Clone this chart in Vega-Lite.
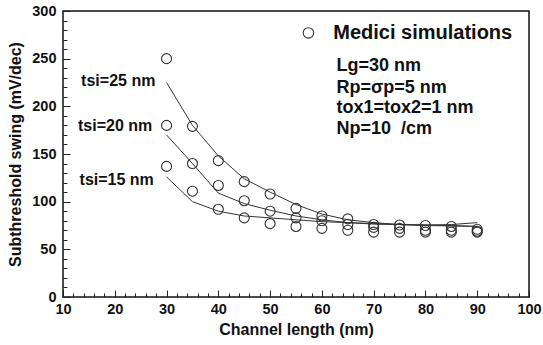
{
  "$schema": "https://vega.github.io/schema/vega-lite/v6.json",
  "width": 466,
  "height": 286,
  "autosize": {"type": "none"},
  "padding": {"left": 63, "top": 11, "right": 14, "bottom": 48},
  "background": "white",
  "config": {
    "view": {"stroke": "#111", "strokeWidth": 1.5},
    "font": "Liberation Sans",
    "axis": {
      "domain": false,
      "grid": false,
      "labelFont": "Liberation Sans",
      "labelFontWeight": "bold",
      "labelFontSize": 14.5,
      "labelColor": "#111",
      "titleFont": "Liberation Sans",
      "titleFontWeight": "bold",
      "titleFontSize": 16,
      "titleColor": "#111",
      "tickColor": "#222",
      "tickWidth": 1
    }
  },
  "datasets": {
    "points": [
      {"L": 30, "S": 250, "t": "25"}, {"L": 35, "S": 179, "t": "25"}, {"L": 40, "S": 143, "t": "25"}, {"L": 45, "S": 121, "t": "25"}, {"L": 50, "S": 108, "t": "25"}, {"L": 55, "S": 93, "t": "25"}, {"L": 60, "S": 85, "t": "25"}, {"L": 65, "S": 82, "t": "25"}, {"L": 70, "S": 76, "t": "25"}, {"L": 75, "S": 75.5, "t": "25"}, {"L": 80, "S": 75, "t": "25"}, {"L": 85, "S": 74, "t": "25"}, {"L": 90, "S": 71, "t": "25"},
      {"L": 30, "S": 180, "t": "20"}, {"L": 35, "S": 140, "t": "20"}, {"L": 40, "S": 117, "t": "20"}, {"L": 45, "S": 101, "t": "20"}, {"L": 50, "S": 90, "t": "20"}, {"L": 55, "S": 83, "t": "20"}, {"L": 60, "S": 80, "t": "20"}, {"L": 65, "S": 76, "t": "20"}, {"L": 70, "S": 73, "t": "20"}, {"L": 75, "S": 72, "t": "20"}, {"L": 80, "S": 70, "t": "20"}, {"L": 85, "S": 70, "t": "20"}, {"L": 90, "S": 69, "t": "20"},
      {"L": 30, "S": 137, "t": "15"}, {"L": 35, "S": 111, "t": "15"}, {"L": 40, "S": 92, "t": "15"}, {"L": 45, "S": 83, "t": "15"}, {"L": 50, "S": 77, "t": "15"}, {"L": 55, "S": 74, "t": "15"}, {"L": 60, "S": 72, "t": "15"}, {"L": 65, "S": 70, "t": "15"}, {"L": 70, "S": 68, "t": "15"}, {"L": 75, "S": 68, "t": "15"}, {"L": 80, "S": 68, "t": "15"}, {"L": 85, "S": 68, "t": "15"}, {"L": 90, "S": 68, "t": "15"}
    ],
    "lines": [
      {"L": 30, "S": 225, "t": "25"}, {"L": 35, "S": 180, "t": "25"}, {"L": 40, "S": 148, "t": "25"}, {"L": 45, "S": 124, "t": "25"}, {"L": 50, "S": 110, "t": "25"}, {"L": 55, "S": 97, "t": "25"}, {"L": 60, "S": 87, "t": "25"}, {"L": 65, "S": 81, "t": "25"}, {"L": 70, "S": 78, "t": "25"}, {"L": 75, "S": 76, "t": "25"}, {"L": 80, "S": 75, "t": "25"}, {"L": 85, "S": 74.5, "t": "25"}, {"L": 90, "S": 74, "t": "25"},
      {"L": 30, "S": 170, "t": "20"}, {"L": 35, "S": 140, "t": "20"}, {"L": 40, "S": 109, "t": "20"}, {"L": 45, "S": 98, "t": "20"}, {"L": 50, "S": 91, "t": "20"}, {"L": 55, "S": 85, "t": "20"}, {"L": 60, "S": 81, "t": "20"}, {"L": 65, "S": 78, "t": "20"}, {"L": 70, "S": 77, "t": "20"}, {"L": 75, "S": 76, "t": "20"}, {"L": 80, "S": 75.5, "t": "20"}, {"L": 85, "S": 75, "t": "20"}, {"L": 90, "S": 74, "t": "20"},
      {"L": 30, "S": 126, "t": "15"}, {"L": 35, "S": 100, "t": "15"}, {"L": 40, "S": 90, "t": "15"}, {"L": 45, "S": 85, "t": "15"}, {"L": 50, "S": 83, "t": "15"}, {"L": 55, "S": 81, "t": "15"}, {"L": 60, "S": 79, "t": "15"}, {"L": 65, "S": 78, "t": "15"}, {"L": 70, "S": 76.5, "t": "15"}, {"L": 75, "S": 76, "t": "15"}, {"L": 80, "S": 75.5, "t": "15"}, {"L": 85, "S": 76, "t": "15"}, {"L": 90, "S": 78, "t": "15"}
    ],
    "labels": [
      {"L": 13.5, "S": 227, "label": "tsi=25 nm"},
      {"L": 12.9, "S": 179, "label": "tsi=20 nm"},
      {"L": 13.2, "S": 123, "label": "tsi=15 nm"}
    ],
    "notes": [
      {"L": 62.8, "S": 242, "label": "Lg=30 nm"},
      {"L": 62.8, "S": 219.5, "label": "Rp=σp=5 nm"},
      {"L": 62.8, "S": 198.5, "label": "tox1=tox2=1 nm"},
      {"L": 62.8, "S": 176, "label": "Np=10\u00a0\u00a0/cm"}
    ]
  },
  "encoding": {
    "x": {
      "field": "L", "type": "quantitative",
      "scale": {"domain": [10, 100], "nice": false, "zero": false},
      "axis": {
        "title": "Channel length (nm)",
        "values": [10,12,14,16,18,20,22,24,26,28,30,32,34,36,38,40,42,44,46,48,50,52,54,56,58,60,62,64,66,68,70,72,74,76,78,80,82,84,86,88,90,92,94,96,98,100],
        "labelExpr": "datum.value % 10 === 0 ? datum.label : ''",
        "tickSize": {"condition": {"test": "datum.value % 10 === 0", "value": -7}, "value": -4},
        "labelPadding": 12,
        "labelFlush": false,
        "titlePadding": 6
      }
    },
    "y": {
      "field": "S", "type": "quantitative",
      "scale": {"domain": [0, 300], "nice": false},
      "axis": {
        "title": "Subthreshold swing (mV/dec)",
        "values": [0,10,20,30,40,50,60,70,80,90,100,110,120,130,140,150,160,170,180,190,200,210,220,230,240,250,260,270,280,290,300],
        "labelExpr": "datum.value % 50 === 0 ? datum.label : ''",
        "tickSize": {"condition": {"test": "datum.value % 50 === 0", "value": -7}, "value": -4},
        "labelPadding": 14,
        "labelFlush": false,
        "titlePadding": 8
      }
    }
  },
  "layer": [
    {
      "data": {"name": "lines"},
      "mark": {"type": "line", "color": "#333", "strokeWidth": 1},
      "encoding": {"detail": {"field": "t"}}
    },
    {
      "data": {"name": "points"},
      "mark": {"type": "point", "shape": "circle", "filled": false, "size": 100, "stroke": "#333", "strokeWidth": 1.1, "opacity": 1}
    },
    {
      "data": {"name": "labels"},
      "mark": {"type": "text", "align": "left", "baseline": "middle", "fontSize": 16, "fontWeight": "bold", "color": "#111"},
      "encoding": {"text": {"field": "label"}}
    },
    {
      "data": {"values": [{"L": 57.4, "S": 277}]},
      "mark": {"type": "point", "shape": "circle", "filled": false, "size": 110, "stroke": "#333", "strokeWidth": 1.1, "opacity": 1}
    },
    {
      "data": {"values": [{"L": 62.2, "S": 277, "label": "Medici simulations"}]},
      "mark": {"type": "text", "align": "left", "baseline": "middle", "fontSize": 20, "fontWeight": "bold", "color": "#111"},
      "encoding": {"text": {"field": "label"}}
    },
    {
      "data": {"name": "notes"},
      "mark": {"type": "text", "align": "left", "baseline": "middle", "fontSize": 18, "fontWeight": "bold", "color": "#111"},
      "encoding": {"text": {"field": "label"}}
    }
  ]
}
